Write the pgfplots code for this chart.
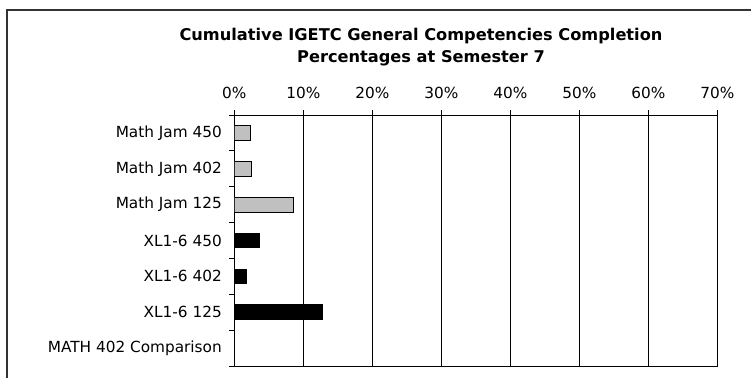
\documentclass[border=0pt]{standalone}
\usepackage{fontspec}
\setmainfont{DejaVu Sans}
\usepackage{pgfplots}
\pgfplotsset{compat=1.18}
\definecolor{barGray}{RGB}{192,192,192}
\begin{document}
\begin{tikzpicture}[x=1pt,y=1pt]
\useasboundingbox (0,0) rectangle (751,-377);
\clip (0,0) rectangle (751,-377);
\draw[line width=1.1pt, black!80] (7,-400) -- (7,-10) -- (800,-10);
\node[font=\bfseries\fontsize{16.2}{22}\selectfont, align=center] at (421,-47)
  {Cumulative IGETC General Competencies Completion\\Percentages at Semester 7};
\begin{axis}[
  at={(234.3pt,-366pt)}, anchor=south west,
  scale only axis, width=483pt, height=251pt,
  xmin=0, xmax=70, ymin=-0.5, ymax=6.5, y dir=reverse,
  xtick={0,10,20,30,40,50,60,70},
  xticklabels={0\%,10\%,20\%,30\%,40\%,50\%,60\%,70\%},
  xtick pos=right, xticklabel pos=right,
  ytick={0,1,2,3,4,5,6},
  yticklabels={Math Jam 450,Math Jam 402,Math Jam 125\hspace{6pt},XL1-6 450,XL1-6 402,XL1-6 125\hspace{6pt},MATH 402 Comparison},
  ytick pos=left,
  minor ytick={-0.5,0.5,1.5,2.5,3.5,4.5,5.5,6.5},
  tick align=outside,
  major tick length=5pt, minor tick length=5pt,
  ytick style={draw=none}, minor y tick style={draw=black, line width=0.8pt},
  xtick style={line width=0.8pt, black},
  xmajorgrids, grid style={black, line width=0.8pt},
  axis line style={black, line width=0.9pt},
  tick label style={font=\fontsize{15.3}{18}\selectfont},
  yticklabel style={xshift=-4pt},
  xticklabel style={yshift=8pt},
]
\addplot[xbar, bar shift=0pt, bar width=14.7pt, fill=barGray, draw=black, line width=0.8pt]
  coordinates {(2.4,0) (2.5,1) (8.6,2)};
\addplot[xbar, bar shift=0pt, bar width=14.7pt, fill=black, draw=black, line width=0.8pt]
  coordinates {(3.7,3) (1.8,4) (12.8,5)};
\end{axis}
\end{tikzpicture}
\end{document}
